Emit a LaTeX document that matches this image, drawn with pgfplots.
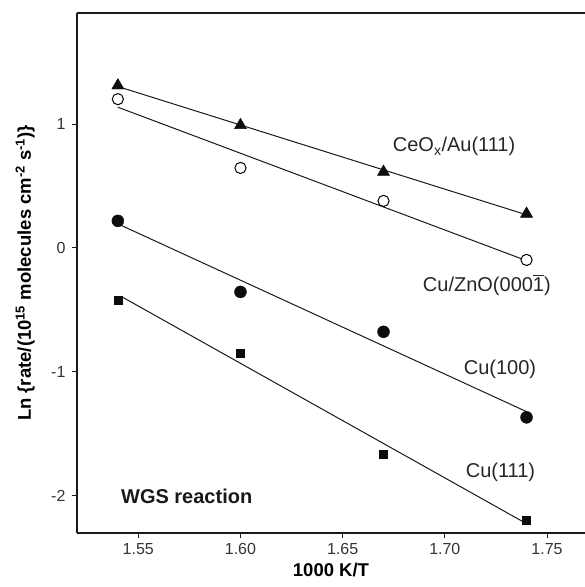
\documentclass[border=0pt]{standalone}
\usepackage{fontspec}
\setmainfont{Liberation Sans}
\usepackage{pgfplots}
\pgfplotsset{compat=1.18}
\newcommand{\tl}[1]{{\fontsize{16}{19}\selectfont #1}}
\begin{document}
\begin{tikzpicture}
\begin{axis}[
  at={(0,0)}, anchor=south west,
  scale only axis, width=508pt, height=520pt,
  xmin=1.52, xmax=1.7686, ymin=-2.3, ymax=1.895,
  axis x line*=box, axis y line*=left,
  axis line style={-, line width=1.1pt, black!90},
  xtick={1.55,1.60,1.65,1.70,1.75},
  xticklabels={\tl{1.55},\tl{1.60},\tl{1.65},\tl{1.70},\tl{1.75}},
  ytick={-2,-1,0,1}, yticklabels={\tl{-2},\tl{-1},\tl{0},\tl{1}},
  xtick pos=left, ytick pos=left, tick align=outside, major tick length=5pt,
  tick style={black!90, line width=0.8pt},
  tick label style={text=black!80},
  xticklabel style={yshift=-2pt},
  yticklabel style={xshift=-3pt},
  xlabel={\bfseries 1000 K/T},
  ylabel={\bfseries Ln \{rate/(10\textsuperscript{15} molecules cm\textsuperscript{-2} s\textsuperscript{-1})\}},
  label style={font=\fontsize{18.5}{22}\selectfont},
  xlabel style={at={(axis description cs:0.5,-0.071)}, anchor=center},
  ylabel style={at={(axis description cs:-0.102,0.5)}, anchor=center},
  clip=false,
]
% fitted lines
\addplot[line width=1pt, black!90] coordinates {(1.54,1.302) (1.74,0.267)};
\addplot[line width=1pt, black!90] coordinates {(1.54,1.135) (1.74,-0.103)};
\addplot[line width=1pt, black!90] coordinates {(1.54,0.194) (1.74,-1.321)};
\addplot[line width=1pt, black!90] coordinates {(1.542,-0.395) (1.74,-2.225)};
% CeOx/Au(111)
\addplot[only marks, mark=triangle*, mark size=7pt, mark options={fill=black!95, draw=black!95}]
  coordinates {(1.54,1.31) (1.60,0.99) (1.67,0.613) (1.74,0.275)};
% Cu/ZnO
\addplot[only marks, mark=*, mark size=5.6pt, mark options={fill=white, draw=black, line width=1pt}]
  coordinates {(1.54,1.20) (1.60,0.645) (1.67,0.379) (1.74,-0.097)};
% Cu(100)
\addplot[only marks, mark=*, mark size=6pt, mark options={fill=black!95, draw=black!95}]
  coordinates {(1.54,0.218) (1.60,-0.355) (1.67,-0.677) (1.74,-1.367)};
% Cu(111)
\addplot[only marks, mark=square*, mark size=4pt, mark options={fill=black!95, draw=black!95}]
  coordinates {(1.54,-0.42) (1.60,-0.847) (1.67,-1.661) (1.74,-2.2)};
\node[anchor=base west, font=\fontsize{20}{24}\selectfont, inner sep=0pt, text=black!85] at (axis cs:1.6745,0.774) {CeO\textsubscript{x}/Au(111)};
\node[anchor=base west, font=\fontsize{20}{24}\selectfont, inner sep=0pt, text=black!85] at (axis cs:1.6892,-0.35) {Cu/ZnO(000{\setbox0\hbox{1}\rlap{\rule[\dimexpr\ht0+1.8pt\relax]{\wd0}{0.9pt}}1})};
\node[anchor=base west, font=\fontsize{20}{24}\selectfont, inner sep=0pt, text=black!85] at (axis cs:1.7092,-1.024) {Cu(100)};
\node[anchor=base west, font=\fontsize{20}{24}\selectfont, inner sep=0pt, text=black!85] at (axis cs:1.7102,-1.855) {Cu(111)};
\node[anchor=base west, font=\bfseries\fontsize{20}{24}\selectfont, inner sep=0pt, text=black!90] at (axis cs:1.5415,-2.0645) {WGS reaction};
\end{axis}
\pgfresetboundingbox
\path[use as bounding box] (-77pt,-54pt) rectangle (508pt,533pt);
\end{tikzpicture}
\end{document}
